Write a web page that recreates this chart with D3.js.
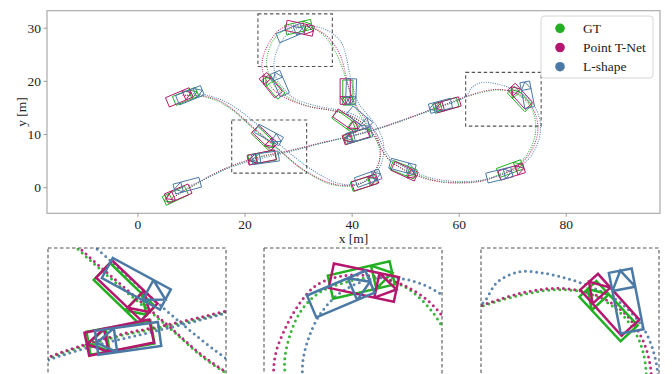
<!DOCTYPE html>
<html><head><meta charset="utf-8">
<script src="https://cdn.jsdelivr.net/npm/d3@7/dist/d3.min.js"></script>
<style>body{margin:0;background:#fff}svg{display:block}text{font-family:"Liberation Serif","Times New Roman",serif;fill:#222}</style>
</head><body><svg id="c" width="672" height="374"></svg>
<script>
// ---------- data ----------
const seriesNames = ["GT", "Point T-Net", "L-shape"];
const xTicks = [0, 20, 40, 60, 80];
const yTicks = [0, 10, 20, 30];
const xDomain = [-16.9, 97.6];
const yDomain = [-4.9, 33.2];

const gtPath = [[9,17.3],[12,17.1],[15,16.2],[18,14.3],[21,11.6],[24,9.0],[27,6.5],[30,3.9],[33,2.0],[36,0.6],[39,0.2],[42,0.8],[44.5,3.2],[45.3,5.5],[45,7.8],[44,10],[42.5,12.2],[41,14.6],[39.9,17.4],[39,20.2],[38.1,22.9],[37,25.4],[35.5,27.8],[33.6,29.5],[31.3,30.3],[28.8,29.9],[26.8,29.1],[25.4,27.7],[24.5,25.7],[24.1,23.5],[24.5,21.4],[25.4,19.4],[26.9,17.8],[29,16.4],[32.5,15.1],[36.5,14.4],[39.5,13.5],[42,12.0],[44.2,9.8],[45.7,7.0],[47.2,5.0],[49.5,3.5],[52.5,2.2],[56,1.2],[60,0.9],[64,1.2],[67.3,2.3],[70.3,3.7],[72.5,5.8],[73.9,8.4],[74.4,11.2],[73.9,14.1],[72.4,16.4],[70.1,17.9],[67.4,18.3],[64.6,17.9],[61.4,17.0],[58,15.7],[54,14.2],[50,12.7],[46,11.3],[42,10.1],[38,9.1],[34,8.2],[30,7.2],[26,6.3],[23.5,5.8],[20,4.8],[17,3.7],[14,2.3],[11,0.6],[8.5,-0.8],[6.3,-2.2]];

const tnetPath = [[8.5,17.3],[12,17.2],[15,16.4],[18,14.5],[21,11.8],[24,9.2],[27,6.6],[30,4.0],[33,2.1],[36,0.8],[39,0.3],[42,0.9],[44.3,3.0],[45.3,5.6],[45.2,8.2],[44.1,10.8],[42.3,13.2],[40.7,15.6],[39.6,18.3],[38.9,21.2],[38.1,24.2],[36.9,26.6],[35.4,28.4],[33.4,29.7],[31,30.4],[28.5,30.4],[26.6,29.7],[25.3,28.3],[24.2,26.4],[23.4,24.3],[23.3,22.2],[24.1,20],[25.8,18],[28.3,16.5],[32,15.2],[36,14.5],[39.5,13.6],[42,12.1],[44.2,9.8],[45.6,7.1],[47.1,5.1],[49.4,3.5],[52.4,2.1],[56,1.1],[60,0.8],[64,1.1],[67.5,2.2],[70.5,3.6],[72.8,5.7],[74.3,8.4],[74.8,11.2],[74.2,14.1],[72.6,16.5],[70.3,17.9],[67.5,18.4],[64.8,18.1],[61.5,17.1],[58,15.8],[54,14.3],[50,12.8],[46,11.4],[42,10.2],[38,9.2],[34,8.3],[30,7.3],[26,6.4],[23.5,5.9],[20,4.9],[17,3.8],[14,2.4],[11,0.7],[8.5,-0.7],[6.5,-2.0]];

const lshapePath = [[10.5,17.6],[13,17.3],[16,16.3],[19,14.5],[22,12.1],[25,9.4],[28,6.8],[31,4.4],[34,2.4],[37,0.9],[40,0.5],[43,1.3],[45,3.3],[45.9,5.8],[45.9,8.5],[44.8,11.3],[43,13.6],[41.3,15.8],[40.3,18.5],[39.6,21.5],[39,24.5],[38.1,27.2],[36.3,29],[33.8,30.1],[31,30.2],[28.6,29.2],[27,27.6],[26,25.6],[25.5,23.3],[25.9,20.6],[27.5,18.3],[29.5,16.6],[33,15.4],[37,14.6],[40,13.8],[42.5,12.3],[44.7,10],[46,7.3],[47.5,5.2],[49.8,3.8],[52.8,2.4],[56,1.5],[60,1.1],[64,1.3],[67.5,2.2],[70.8,3.5],[73.3,5.6],[74.8,8.4],[75.3,11.3],[74.9,13.6],[74,15.5],[72.3,17.3],[70.3,18.4],[68.4,19.1],[66.3,19.6],[64.3,19.7],[62.6,18.9],[61.5,17.3],[60,16.3],[57,15.3],[54,14.2],[50,12.8],[46,11.4],[42,10.2],[38,9.2],[34,8.2],[30,7.1],[26,6.1],[23,5.4],[20,4.6],[17,3.6],[14,2.2],[11.5,1.0],[9.5,0.2]];

// boxes: [cx, cy, heading(deg), length, width]
const gtBoxes = [[7.1,-1.6,205,4.6,1.8],[9.0,17.1,22,4.6,1.8],[23.6,9.1,-44,4.9,1.85],[23.3,5.6,190,5.1,1.85],[25.4,18.9,130,4.6,1.8],[30.1,30.1,13,4.95,1.85],[39.3,17.8,-90,4.7,1.9],[38.8,12.3,-36,4.9,1.8],[41.0,9.6,197,4.8,1.8],[42.3,0.8,18,4.8,1.8],[49.7,3.3,-22,4.8,1.8],[57.6,15.4,196,4.6,1.8],[69.6,3.5,20,4.8,1.8],[71.4,16.6,133,4.8,1.85]];
const tnetBoxes = [[7.6,-1.2,203,4.8,1.9],[7.8,16.9,23,4.8,1.9],[23.8,9.3,-43.5,4.9,1.85],[23.2,5.6,191.6,5.2,1.85],[24.9,19.2,129,4.6,1.85],[30.3,29.9,-12,5.2,1.95],[38.8,18.0,-90,4.8,1.9],[39.1,12.5,-35,5.2,1.8],[40.8,9.6,198,4.8,1.8],[42.5,0.9,18,4.8,1.8],[49.9,3.0,-25,4.8,1.8],[58.0,15.5,196,4.6,1.8],[69.9,2.9,17,4.8,1.8],[71.5,17.1,132,4.9,1.9]];
const lshapeBoxes = [[9.3,0.3,195,5.0,1.9],[9.8,17.3,22,5.0,1.9],[24.55,9.84,-28.5,5.2,1.8],[23.9,5.54,188,5.0,1.9],[26.6,19.5,113,4.6,1.9],[28.5,29.0,23,4.95,1.86],[39.9,18.0,-92,4.8,1.9],[41.5,13.0,-40,4.8,1.9],[41.4,9.8,195,4.8,1.9],[43.1,1.7,20,4.8,1.9],[49.5,3.9,-15,4.8,1.9],[56.6,15.3,195,4.2,1.8],[67.6,2.3,14,4.8,1.9],[72.8,17.4,101,4.9,1.84]];

// zoom regions in data units: [x0, x1, y0, y1]
const zoomRegions = [[17.6,31.6,2.65,12.65],[22.5,36.4,22.7,32.6],[61.3,75.4,11.5,21.6]];

// ---------- drawing ----------
const colors = ["#22b022", "#b5176f", "#4a79a5"];
const paths = [gtPath, tnetPath, lshapePath];
const boxes = [gtBoxes, tnetBoxes, lshapeBoxes];

const svg = d3.select("#c");
const M = {l:47, r:660, t:10.7, b:213.3};
const x = d3.scaleLinear().domain(xDomain).range([M.l, M.r]);
const y = d3.scaleLinear().domain(yDomain).range([M.b, M.t]);

const defs = svg.append("defs");
defs.append("clipPath").attr("id","cpMain").append("rect")
  .attr("x",M.l).attr("y",M.t).attr("width",M.r-M.l).attr("height",M.b-M.t);

function boxPath(b, xs, ys){
  const [cx,cy,hd,L,W] = b;
  const a = hd*Math.PI/180, c = Math.cos(a), s = Math.sin(a);
  const P = (lx,ly)=>[xs(cx + lx*c - ly*s), ys(cy + lx*s + ly*c)];
  const h=L/2, w=W/2, k=h-0.3*L;
  const pts = [P(h,w),P(h,-w),P(-h,-w),P(-h,w)];
  let d = "M"+pts.map(p=>p.join(",")).join("L")+"Z";
  const cl=P(k,w), cr=P(k,-w), fm=P(h,0);
  d += "M"+cl.join(",")+"L"+cr.join(",");
  d += "M"+cl.join(",")+"L"+fm.join(",")+"L"+cr.join(",");
  return d;
}

function drawScene(g, xs, ys, o){
  const line = d3.line().x(d=>xs(d[0])).y(d=>ys(d[1])).curve(d3.curveCatmullRom.alpha(0.5));
  paths.forEach((p,i)=>{
    g.append("path").attr("d",line(p)).attr("fill","none")
      .attr("stroke",colors[i]).attr("stroke-width",o.dot)
      .attr("stroke-linecap","round").attr("stroke-dasharray","0 "+o.gap)
      .attr("opacity",0.9);
  });
  boxes.forEach((bs,i)=>{
    g.selectAll(null).data(bs).enter().append("path")
      .attr("d",b=>boxPath(b,xs,ys)).attr("fill","none")
      .attr("stroke",colors[i]).attr("stroke-width",o.lw)
      .attr("stroke-linejoin","miter");
  });
}

// main scene
const gMain = svg.append("g").attr("clip-path","url(#cpMain)");
drawScene(gMain, x, y, {dot:1.2, gap:2.3, lw:1.0});

// zoom region rectangles on main plot
svg.append("g").selectAll("rect").data(zoomRegions).enter().append("rect")
  .attr("x",r=>x(r[0])).attr("y",r=>y(r[3]))
  .attr("width",r=>x(r[1])-x(r[0])).attr("height",r=>y(r[2])-y(r[3]))
  .attr("fill","none").attr("stroke","#555").attr("stroke-width",1.1)
  .attr("stroke-dasharray","3.5 2.5");

// spines
svg.append("rect").attr("x",M.l).attr("y",M.t).attr("width",M.r-M.l).attr("height",M.b-M.t)
  .attr("fill","none").attr("stroke","#aaa").attr("stroke-width",1.2);

// axes
const ax = svg.append("g").attr("transform",`translate(0,${M.b})`)
  .call(d3.axisBottom(x).tickValues(xTicks).tickSize(3.5).tickPadding(2.5).tickFormat(d3.format("d")));
const ay = svg.append("g").attr("transform",`translate(${M.l},0)`)
  .call(d3.axisLeft(y).tickValues(yTicks).tickSize(3.5).tickPadding(2.5).tickFormat(d3.format("d")));
[ax,ay].forEach(a=>{
  a.attr("font-family",null);
  a.select(".domain").remove();
  a.selectAll(".tick line").attr("stroke","#999");
  a.selectAll(".tick text").style("font-family",'"Liberation Serif",serif').style("font-size","13.5px").attr("fill","#222");
});
svg.append("text").attr("x",(M.l+M.r)/2).attr("y",243).attr("text-anchor","middle")
  .style("font-size","13.5px").text("x [m]");
svg.append("text").attr("transform",`translate(26,${(M.t+M.b)/2}) rotate(-90)`).attr("text-anchor","middle")
  .style("font-size","13.5px").text("y [m]");

// legend
const lg = svg.append("g");
lg.append("rect").attr("x",541).attr("y",16).attr("width",112).attr("height",62).attr("rx",3)
  .attr("fill","#fff").attr("fill-opacity",0.85).attr("stroke","#d6d6d6");
seriesNames.forEach((n,i)=>{
  const cy = 28.3 + i*19.2;
  lg.append("circle").attr("cx",560).attr("cy",cy).attr("r",4.8).attr("fill",colors[i]);
  lg.append("text").attr("x",583).attr("y",cy).attr("dy","0.35em").style("font-size","13.5px").text(n);
});

// insets
const insetLefts = [48, 264, 481];
const insetTop = 248, insetW = 178;
zoomRegions.forEach((r,i)=>{
  const L = insetLefts[i];
  const H = insetW*(r[3]-r[2])/(r[1]-r[0]);
  const xs = d3.scaleLinear().domain([r[0],r[1]]).range([L, L+insetW]);
  const ys = d3.scaleLinear().domain([r[2],r[3]]).range([insetTop+H, insetTop]);
  defs.append("clipPath").attr("id","cpI"+i).append("rect")
    .attr("x",L).attr("y",insetTop).attr("width",insetW).attr("height",H);
  const g = svg.append("g").attr("clip-path",`url(#cpI${i})`);
  drawScene(g, xs, ys, {dot:3.0, gap:5.6, lw:2.5});
  svg.append("rect").attr("x",L).attr("y",insetTop).attr("width",insetW).attr("height",H)
    .attr("fill","none").attr("stroke","#555").attr("stroke-width",1.1).attr("stroke-dasharray","3.5 2.5");
});
</script></body></html>
